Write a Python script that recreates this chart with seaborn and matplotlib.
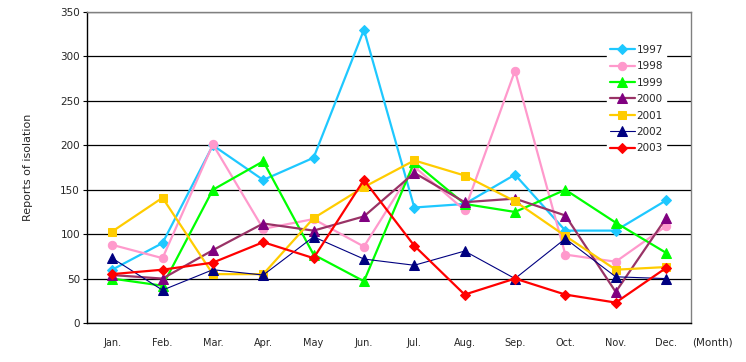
import pandas as pd
import matplotlib
matplotlib.use("Agg")
import matplotlib.pyplot as plt
import seaborn as sns

months = ["Jan.", "Feb.", "Mar.", "Apr.", "May", "Jun.", "Jul.", "Aug.", "Sep.", "Oct.", "Nov.", "Dec."]
years = ["1997", "1998", "1999", "2000", "2001", "2002", "2003"]

y1997 = [60, 90, 200, 161, 186, 330, 130, 134, 167, 104, 104, 138]
y1998 = [88, 73, 201, 106, 117, 86, 176, 127, 284, 77, 69, 109]
y1999 = [50, 42, 150, 182, 77, 47, 181, 134, 125, 150, 113, 79]
y2000 = [54, 50, 82, 112, 104, 120, 169, 136, 140, 121, 35, 118]
y2001 = [103, 141, 55, 55, 118, 153, 183, 166, 137, 98, 60, 63]
y2002 = [73, 37, 60, 54, 97, 72, 65, 81, 50, 95, 52, 50]
y2003 = [55, 60, 68, 91, 73, 161, 87, 32, 50, 32, 23, 62]

series = [y1997, y1998, y1999, y2000, y2001, y2002, y2003]

# style per year: line colour, marker colour, marker, line width, marker size
styles = {
    "1997": ("#1EC8FF", "#1EC8FF", "D", 1.6, 5.5),
    "1998": ("#FF99CC", "#FF99CC", "o", 1.6, 6),
    "1999": ("#00FF00", "#00FF00", "^", 1.6, 6.5),
    "2000": ("#993366", "#800080", "^", 1.6, 6.5),
    "2001": ("#FFCC00", "#FFCC00", "s", 1.6, 6),
    "2002": ("#000080", "#000080", "^", 0.8, 6.5),
    "2003": ("#FF0000", "#FF0000", "D", 1.6, 5.5),
}

rows = []
for yr, vals in zip(years, series):
    for i, v in enumerate(vals):
        rows.append({"year": yr, "pos": i, "month": months[i], "reports": v})
df = pd.DataFrame(rows)

sns.set_style("white")
plt.rcParams["font.family"] = ["DejaVu Sans"]

fig = plt.figure(figsize=(7.46, 3.62), dpi=100)
ax = fig.add_axes([0.1166, 0.1077, 0.81, 0.859])

for yr in years:
    lc, mc, mk, lw, ms = styles[yr]
    sns.lineplot(data=df[df["year"] == yr], x="pos", y="reports", ax=ax,
                 color=lc, linewidth=lw, marker=mk, markersize=ms,
                 markerfacecolor=mc, markeredgecolor=mc, label=yr)

ax.set_xlim(-0.5, 11.5)
ax.set_ylim(0, 350)
ax.set_yticks(range(0, 351, 50))
ax.yaxis.grid(True, color="black", linewidth=0.9)
ax.set_axisbelow(True)

ax.set_xticks(range(12))
ax.set_xticklabels(months, fontsize=7)
ax.set_xticks([i + 0.5 for i in range(-1, 12)], minor=True)
ax.tick_params(axis="x", which="major", length=0, pad=11)
ax.tick_params(axis="x", which="minor", length=4, direction="in", color="black")
ax.tick_params(axis="y", labelsize=7.5, length=3, direction="out", color="black", pad=2, left=True)

for side in ["left", "bottom"]:
    ax.spines[side].set_color("black")
    ax.spines[side].set_linewidth(1)
for side in ["top", "right"]:
    ax.spines[side].set_color("#808080")
    ax.spines[side].set_linewidth(1)

ax.set_xlabel("")
ax.set_ylabel("Reports of isolation", fontsize=8, labelpad=20)
fig.text(0.928, 0.055, "(Month)", fontsize=7.5, va="center")

leg = ax.legend(loc="upper left", bbox_to_anchor=(0.86, 0.905), frameon=True,
                fontsize=7.5, handlelength=2.4, handletextpad=0.15,
                labelspacing=0.62, borderpad=0.3, borderaxespad=0)
leg.get_frame().set_edgecolor("white")
leg.get_frame().set_facecolor("white")
leg.get_frame().set_alpha(1)
leg.get_frame().set_boxstyle("square", pad=0)

fig.savefig("out.png", dpi=100)
